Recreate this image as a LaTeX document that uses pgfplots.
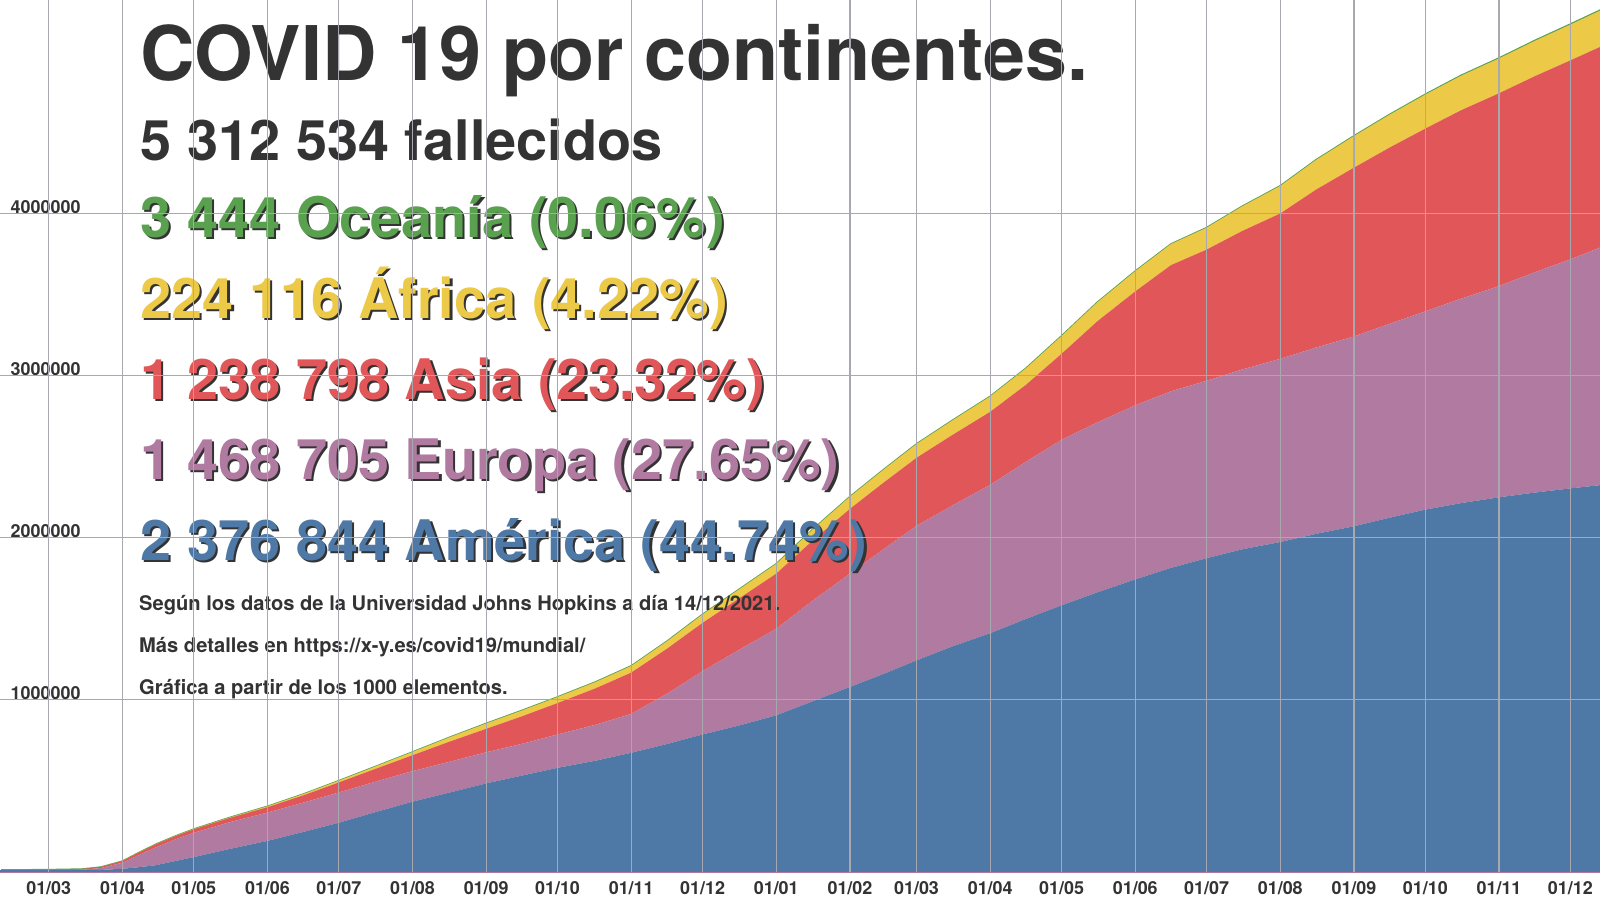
\documentclass[border=0pt]{standalone}
\usepackage{pgfplots}
\pgfplotsset{compat=1.18}
\usepackage{pgfplotstable}
\usepackage{fontspec}
\setmainfont{TeX Gyre Heros}

\definecolor{amer}{RGB}{78,121,167}
\definecolor{euro}{RGB}{176,122,161}
\definecolor{asia}{RGB}{225,87,89}
\definecolor{afri}{RGB}{237,201,72}
\definecolor{ocea}{RGB}{89,161,79}
\definecolor{txt}{RGB}{51,51,51}
\definecolor{gridc}{RGB}{168,168,175}

\pgfplotstableread{
d am eu as af oc
-20 0 0 1000 0 0
0 1 35 2950 0 1
14 100 2400 4000 10 5
22 1000 12000 6000 150 7
31 8000 37000 10000 500 20
38 18000 75000 15000 1000 50
45 30000 110000 18000 1500 65
53 55000 133000 19000 2000 90
61 80000 150000 21000 2500 100
76 130000 165000 26000 3500 110
92 180000 175000 33000 6000 110
107 235000 181000 45000 8000 110
122 292000 187000 62000 11000 115
138 360000 188000 80000 15000 150
153 422000 189000 98000 20000 200
169 480000 190000 125000 27000 420
184 535000 192000 145000 33000 680
199 583000 196000 170000 36000 840
214 631000 206000 194000 37000 900
230 675000 222000 225000 39000 930
245 724000 240000 255000 41000 930
260 778000 310000 278000 46000 935
275 837000 391000 298000 52000 935
291 895000 470000 318000 56000 935
306 955000 535000 340000 60000 935
321 1040000 620000 370000 68000 940
337 1130000 700000 400000 75000 940
351 1210000 770000 410000 80000 945
365 1294000 831000 420000 85000 945
380 1380000 870000 435000 90000 945
396 1462000 916000 451000 95000 945
411 1550000 970000 475000 102000 945
426 1634000 1022000 531000 110000 945
441 1714000 1049000 624000 117000 945
457 1794000 1075000 703000 125000 950
472 1865000 1090000 779000 130000 960
487 1925000 1095000 810000 135000 1000
502 1980000 1110000 855000 152000 1050
518 2025000 1131000 897000 170000 1250
533 2075000 1150000 975000 183000 1450
549 2122000 1172000 1042000 195000 1700
564 2175000 1197000 1088000 203000 2000
579 2225000 1224000 1128000 210000 2300
594 2265000 1262000 1163000 213000 2600
610 2301000 1304000 1190000 215000 2900
625 2330000 1360000 1210000 218000 3100
640 2356000 1414000 1228000 221000 3300
653 2376844 1468705 1238798 224116 3444
}\data

\pgfplotsset{
  chartframe/.style={
    scale only axis, width=16cm, height=8.72cm,
    at={(0,0)}, anchor=south west,
    xmin=-20.5, xmax=652.5, ymin=-12000, ymax=5370716,
    axis line style={draw=none},
    major tick length=0pt,
    scaled y ticks=false,
    xtick={0,31,61,92,122,153,184,214,245,275,306,337,365,396,426,457,487,518,549,579,610,640},
    ytick={1055000,2055000,3055000,4055000},
  }
}

\newcommand{\bigfont}{\fontsize{15.9pt}{19pt}\selectfont\bfseries}
\newcommand{\smallfont}{\fontsize{5.73pt}{7pt}\selectfont\bfseries}

\begin{document}
\begin{tikzpicture}
\begin{axis}[
  chartframe,
  stack plots=y,
  xticklabels={01/03,01/04,01/05,01/06,01/07,01/08,01/09,01/10,01/11,01/12,01/01,01/02,01/03,01/04,01/05,01/06,01/07,01/08,01/09,01/10,01/11,01/12},
  yticklabels={1000000,2000000,3000000,4000000},
  xticklabel style={anchor=base, yshift=-0.22cm, inner sep=0pt, font=\fontsize{5.1pt}{6pt}\selectfont\bfseries, text=txt},
  yticklabel style={anchor=base west, xshift=0.1cm, inner sep=0pt, font=\fontsize{5.1pt}{6pt}\selectfont\bfseries, text=txt},
]
\fill[amer] (axis cs:-20.5,-12000) rectangle (axis cs:652.5,0);
\addplot[fill=amer, draw=none] table[x=d, y=am] {\data} \closedcycle;
\addplot[fill=euro, draw=none] table[x=d, y=eu] {\data} \closedcycle;
\addplot[fill=asia, draw=none] table[x=d, y=as] {\data} \closedcycle;
\addplot[fill=afri, draw=none] table[x=d, y=af] {\data} \closedcycle;
\addplot[fill=ocea, draw=ocea, line width=0.4pt] table[x=d, y=oc] {\data} \closedcycle;
\draw[euro, line width=0.8pt] (rel axis cs:0,0) -- (rel axis cs:1,0);
\end{axis}

% texts (over the areas)
\node[anchor=base west, inner sep=0pt, text=txt, font=\fontsize{21.45pt}{25pt}\selectfont\bfseries] at (1.40,7.91) {COVID 19 por continentes.};
\node[anchor=base west, inner sep=0pt, text=txt, font=\bigfont] at (1.40,7.12) {5 312 534 fallecidos};

\node[anchor=base west, inner sep=0pt, text=txt, font=\bigfont] at (1.422,6.328) {3 444 Oceanía (0.06\%)};
\node[anchor=base west, inner sep=0pt, text=ocea, font=\bigfont] at (1.40,6.35) {3 444 Oceanía (0.06\%)};

\node[anchor=base west, inner sep=0pt, text=txt, font=\bigfont] at (1.422,5.518) {224 116 África (4.22\%)};
\node[anchor=base west, inner sep=0pt, text=afri, font=\bigfont] at (1.40,5.54) {224 116 África (4.22\%)};

\node[anchor=base west, inner sep=0pt, text=txt, font=\bigfont] at (1.422,4.708) {1 238 798 Asia (23.32\%)};
\node[anchor=base west, inner sep=0pt, text=asia, font=\bigfont] at (1.40,4.73) {1 238 798 Asia (23.32\%)};

\node[anchor=base west, inner sep=0pt, text=txt, font=\bigfont] at (1.422,3.908) {1 468 705 Europa (27.65\%)};
\node[anchor=base west, inner sep=0pt, text=euro, font=\bigfont] at (1.40,3.93) {1 468 705 Europa (27.65\%)};

\node[anchor=base west, inner sep=0pt, text=txt, font=\bigfont] at (1.422,3.098) {2 376 844 América (44.74\%)};
\node[anchor=base west, inner sep=0pt, text=amer, font=\bigfont] at (1.40,3.12) {2 376 844 América (44.74\%)};

\node[anchor=base west, inner sep=0pt, text=txt, font=\smallfont] at (1.385,2.62) {Según los datos de la Universidad Johns Hopkins a día 14/12/2021.};
\node[anchor=base west, inner sep=0pt, text=txt, font=\smallfont] at (1.385,2.20) {Más detalles en https://x-y.es/covid19/mundial/};
\node[anchor=base west, inner sep=0pt, text=txt, font=\smallfont] at (1.385,1.78) {Gráfica a partir de los 1000 elementos.};

% grid on top of everything
\begin{axis}[
  chartframe,
  xticklabels={}, yticklabels={},
  grid=major,
  major grid style={draw=gridc, line width=0.35pt},
]
\end{axis}

\pgfresetboundingbox
\path[use as bounding box] (0,-0.28) rectangle (16,8.72);
\end{tikzpicture}
\end{document}
